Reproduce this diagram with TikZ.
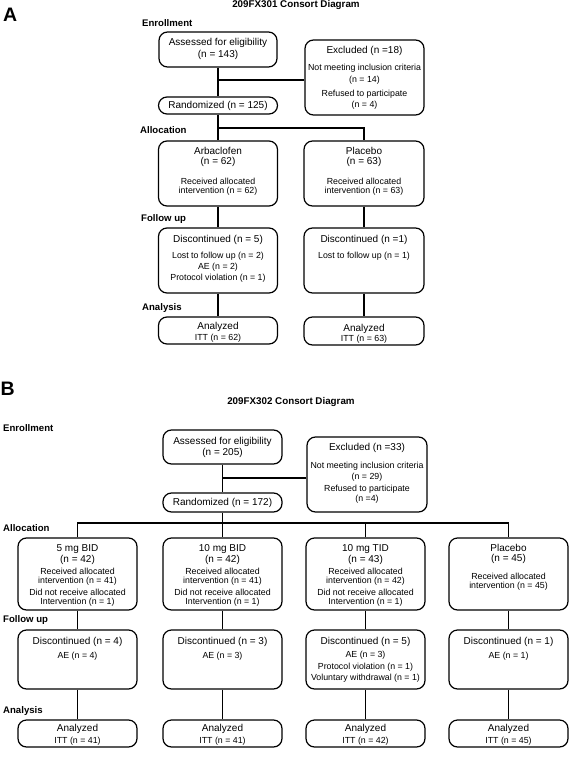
\documentclass[tikz,border=0pt]{standalone}
\usepackage{fontspec}
\setmainfont{Liberation Sans}
\begin{document}
\begin{tikzpicture}[x=1pt,y=-1pt,
  bx/.style 2 args={draw, line width=1.2pt, rounded corners=8.5pt, inner sep=0pt, minimum width=#1, minimum height=#2},
  mt/.style={inner sep=0pt, font=\fontsize{10}{12}\selectfont},
  st/.style={inner sep=0pt, font=\fontsize{8.8}{10}\selectfont},
  lab/.style={inner sep=0pt, anchor=west, font=\bfseries\fontsize{9.6}{11}\selectfont},
  ttl/.style={inner sep=0pt, anchor=base, font=\bfseries\fontsize{9.8}{11}\selectfont},
  pan/.style={inner sep=0pt, anchor=base west, font=\bfseries\fontsize{19.5}{20}\selectfont},
  ln/.style={line width=1.2pt}]
\useasboundingbox (0,0) rectangle (569,757);

% ================= Panel A =================
\node[pan] (pA) at (3,22) {A};
\node[ttl] (tA) at (296,7.5) {209FX301 Consort Diagram};
\node[lab] (enA) at (142,23.5) {Enrollment};
\node[lab] (alAl) at (140,130) {Allocation};
\node[lab] (fuA) at (141,219) {Follow up};
\node[lab] (anAl) at (142,308) {Analysis};

\node[bx={118pt}{35pt}] (asA) at (218,49.5) {};
\node[mt] (asA1) at (218,43) {Assessed for eligibility};
\node[mt] (asA2) at (218,55) {(n = 143)};

\node[bx={119pt}{75pt}] (exA) at (364.5,77.5) {};
\node[mt] (exA1) at (364.5,51) {Excluded (n =18)};
\node[st] (exA2) at (364.5,68) {Not meeting inclusion criteria};
\node[st] (exA3) at (364.5,80) {(n = 14)};
\node[st] (exA4) at (364.5,94) {Refused to participate};
\node[st] (exA5) at (364.5,105) {(n = 4)};

\node[bx={119pt}{17pt}] (rnA) at (218,105.5) {};
\node[mt] (rnA1) at (218,105.5) {Randomized (n = 125)};

\node[bx={119pt}{65pt}] (arb) at (218,173.5) {};
\node[mt] (arb1) at (218,151) {Arbaclofen};
\node[mt] (arb2) at (218,162) {(n = 62)};
\node[st] (arb3) at (218,181) {Received allocated};
\node[st] (arb4) at (218,191) {intervention (n = 62)};

\node[bx={120pt}{65pt}] (plA) at (364,173.5) {};
\node[mt] (plA1) at (364,151) {Placebo};
\node[mt] (plA2) at (364,162) {(n = 63)};
\node[st] (plA3) at (364,181) {Received allocated};
\node[st] (plA4) at (364,191) {intervention (n = 63)};

\node[bx={119pt}{65pt}] (dcA1) at (218,260.5) {};
\node[mt] (dcA1a) at (218,240) {Discontinued (n = 5)};
\node[st] (dcA1b) at (218,256) {Lost to follow up (n = 2)};
\node[st] (dcA1c) at (218,267) {AE (n = 2)};
\node[st] (dcA1d) at (218,278) {Protocol violation (n = 1)};

\node[bx={120pt}{65pt}] (dcA2) at (364,260.5) {};
\node[mt] (dcA2a) at (364,240) {Discontinued (n =1)};
\node[st] (dcA2b) at (364,256) {Lost to follow up (n = 1)};

\node[bx={119pt}{27pt}] (anA1) at (218,330.5) {};
\node[mt] (anA1a) at (218,327) {Analyzed};
\node[st] (anA1b) at (218,338) {ITT (n = 62)};

\node[bx={120pt}{28pt}] (anA2) at (364,331) {};
\node[mt] (anA2a) at (364,328.5) {Analyzed};
\node[st] (anA2b) at (364,339.5) {ITT (n = 63)};

\coordinate (brA) at (218,80);
\coordinate (spA) at (218,128);
\draw[ln] (asA.south) -- (rnA.north);
\draw[ln] (brA) -- (brA -| exA.west);
\draw[ln] (rnA.south) -- (arb.north);
\draw[ln] (spA) -| (plA.north);
\draw[ln] (arb.south) -- (dcA1.north);
\draw[ln] (plA.south) -- (dcA2.north);
\draw[ln] (dcA1.south) -- (anA1.north);
\draw[ln] (dcA2.south) -- (anA2.north);

% ================= Panel B =================
\node[pan] (pB) at (0.5,395) {B};
\node[ttl] (tB) at (291,404.5) {209FX302 Consort Diagram};
\node[lab] (enB) at (3,428) {Enrollment};
\node[lab] (alBl) at (3,528) {Allocation};
\node[lab] (fuB) at (3,620) {Follow up};
\node[lab] (anBl) at (3,711) {Analysis};

\node[bx={119pt}{34pt}] (asB) at (222.5,447) {};
\node[mt] (asB1) at (222.5,442) {Assessed for eligibility};
\node[mt] (asB2) at (222.5,453) {(n = 205)};

\node[bx={120pt}{75pt}] (exB) at (367,474.5) {};
\node[mt] (exB1) at (367,448) {Excluded (n =33)};
\node[st] (exB2) at (367,466) {Not meeting inclusion criteria};
\node[st] (exB3) at (367,477) {(n = 29)};
\node[st] (exB4) at (367,489) {Refused to participate};
\node[st] (exB5) at (367,499) {(n =4)};

\node[bx={119pt}{19pt}] (rnB) at (222.5,502.5) {};
\node[mt] (rnB1) at (222.5,502.5) {Randomized (n = 172)};

% allocation boxes
\node[bx={119pt}{72pt}] (b1) at (77.5,574) {};
\node[mt] (b1a) at (77.5,549) {5 mg BID};
\node[mt] (b1b) at (77.5,560) {(n = 42)};
\node[st] (b1c) at (77.5,571) {Received allocated};
\node[st] (b1d) at (77.5,581) {intervention (n = 41)};
\node[st] (b1e) at (77.5,592) {Did not receive allocated};
\node[st] (b1f) at (77.5,602) {Intervention (n = 1)};

\node[bx={119pt}{72pt}] (b2) at (222.5,574) {};
\node[mt] (b2a) at (222.5,549) {10 mg BID};
\node[mt] (b2b) at (222.5,560) {(n = 42)};
\node[st] (b2c) at (222.5,571) {Received allocated};
\node[st] (b2d) at (222.5,581) {intervention (n = 41)};
\node[st] (b2e) at (222.5,592) {Did not receive allocated};
\node[st] (b2f) at (222.5,602) {Intervention (n = 1)};

\node[bx={119pt}{72pt}] (b3) at (365.5,574) {};
\node[mt] (b3a) at (365.5,549) {10 mg TID};
\node[mt] (b3b) at (365.5,560) {(n = 43)};
\node[st] (b3c) at (365.5,571) {Received allocated};
\node[st] (b3d) at (365.5,581) {intervention (n = 42)};
\node[st] (b3e) at (365.5,592) {Did not receive allocated};
\node[st] (b3f) at (365.5,602) {Intervention (n = 1)};

\node[bx={119pt}{72pt}] (b4) at (508.5,574) {};
\node[mt] (b4a) at (508.5,548) {Placebo};
\node[mt] (b4b) at (508.5,559) {(n = 45)};
\node[st] (b4c) at (508.5,576) {Received allocated};
\node[st] (b4d) at (508.5,586) {intervention (n = 45)};

% discontinued boxes
\node[bx={119pt}{59pt}] (d1) at (77.5,659.5) {};
\node[mt] (d1a) at (77.5,642) {Discontinued (n = 4)};
\node[st] (d1b) at (77.5,656) {AE (n = 4)};

\node[bx={119pt}{59pt}] (d2) at (222.5,659.5) {};
\node[mt] (d2a) at (222.5,642) {Discontinued (n = 3)};
\node[st] (d2b) at (222.5,656) {AE (n = 3)};

\node[bx={119pt}{59pt}] (d3) at (365.5,659.5) {};
\node[mt] (d3a) at (365.5,642) {Discontinued (n = 5)};
\node[st] (d3b) at (365.5,655) {AE (n = 3)};
\node[st] (d3c) at (365.5,667) {Protocol violation (n = 1)};
\node[st] (d3d) at (365.5,678) {Voluntary withdrawal (n = 1)};

\node[bx={119pt}{59pt}] (d4) at (508.5,659.5) {};
\node[mt] (d4a) at (508.5,642) {Discontinued (n = 1)};
\node[st] (d4b) at (508.5,656) {AE (n = 1)};

% analyzed boxes
\node[bx={119pt}{27pt}] (a1) at (77.5,733.5) {};
\node[mt] (a1a) at (77.5,729) {Analyzed};
\node[st] (a1b) at (77.5,741) {ITT (n = 41)};

\node[bx={119pt}{27pt}] (a2) at (222.5,733.5) {};
\node[mt] (a2a) at (222.5,729) {Analyzed};
\node[st] (a2b) at (222.5,741) {ITT (n = 41)};

\node[bx={119pt}{27pt}] (a3) at (365.5,733.5) {};
\node[mt] (a3a) at (365.5,729) {Analyzed};
\node[st] (a3b) at (365.5,741) {ITT (n = 42)};

\node[bx={119pt}{27pt}] (a4) at (508.5,733.5) {};
\node[mt] (a4a) at (508.5,729) {Analyzed};
\node[st] (a4b) at (508.5,741) {ITT (n = 45)};

\coordinate (brB) at (222.5,478);
\coordinate (spB) at (222.5,523);
\draw[ln] (asB.south) -- (rnB.north);
\draw[ln] (brB) -- (brB -| exB.west);
\draw[ln] (rnB.south) -- (b2.north);
\draw[ln] (b1.north) |- (spB) -| (b4.north);
\draw[ln] (b3.north) -- (b3.north |- spB);
\foreach \i in {1,2,3,4} {
  \draw[ln] (b\i.south) -- (d\i.north);
  \draw[ln] (d\i.south) -- (a\i.north);
}
\end{tikzpicture}
\end{document}
